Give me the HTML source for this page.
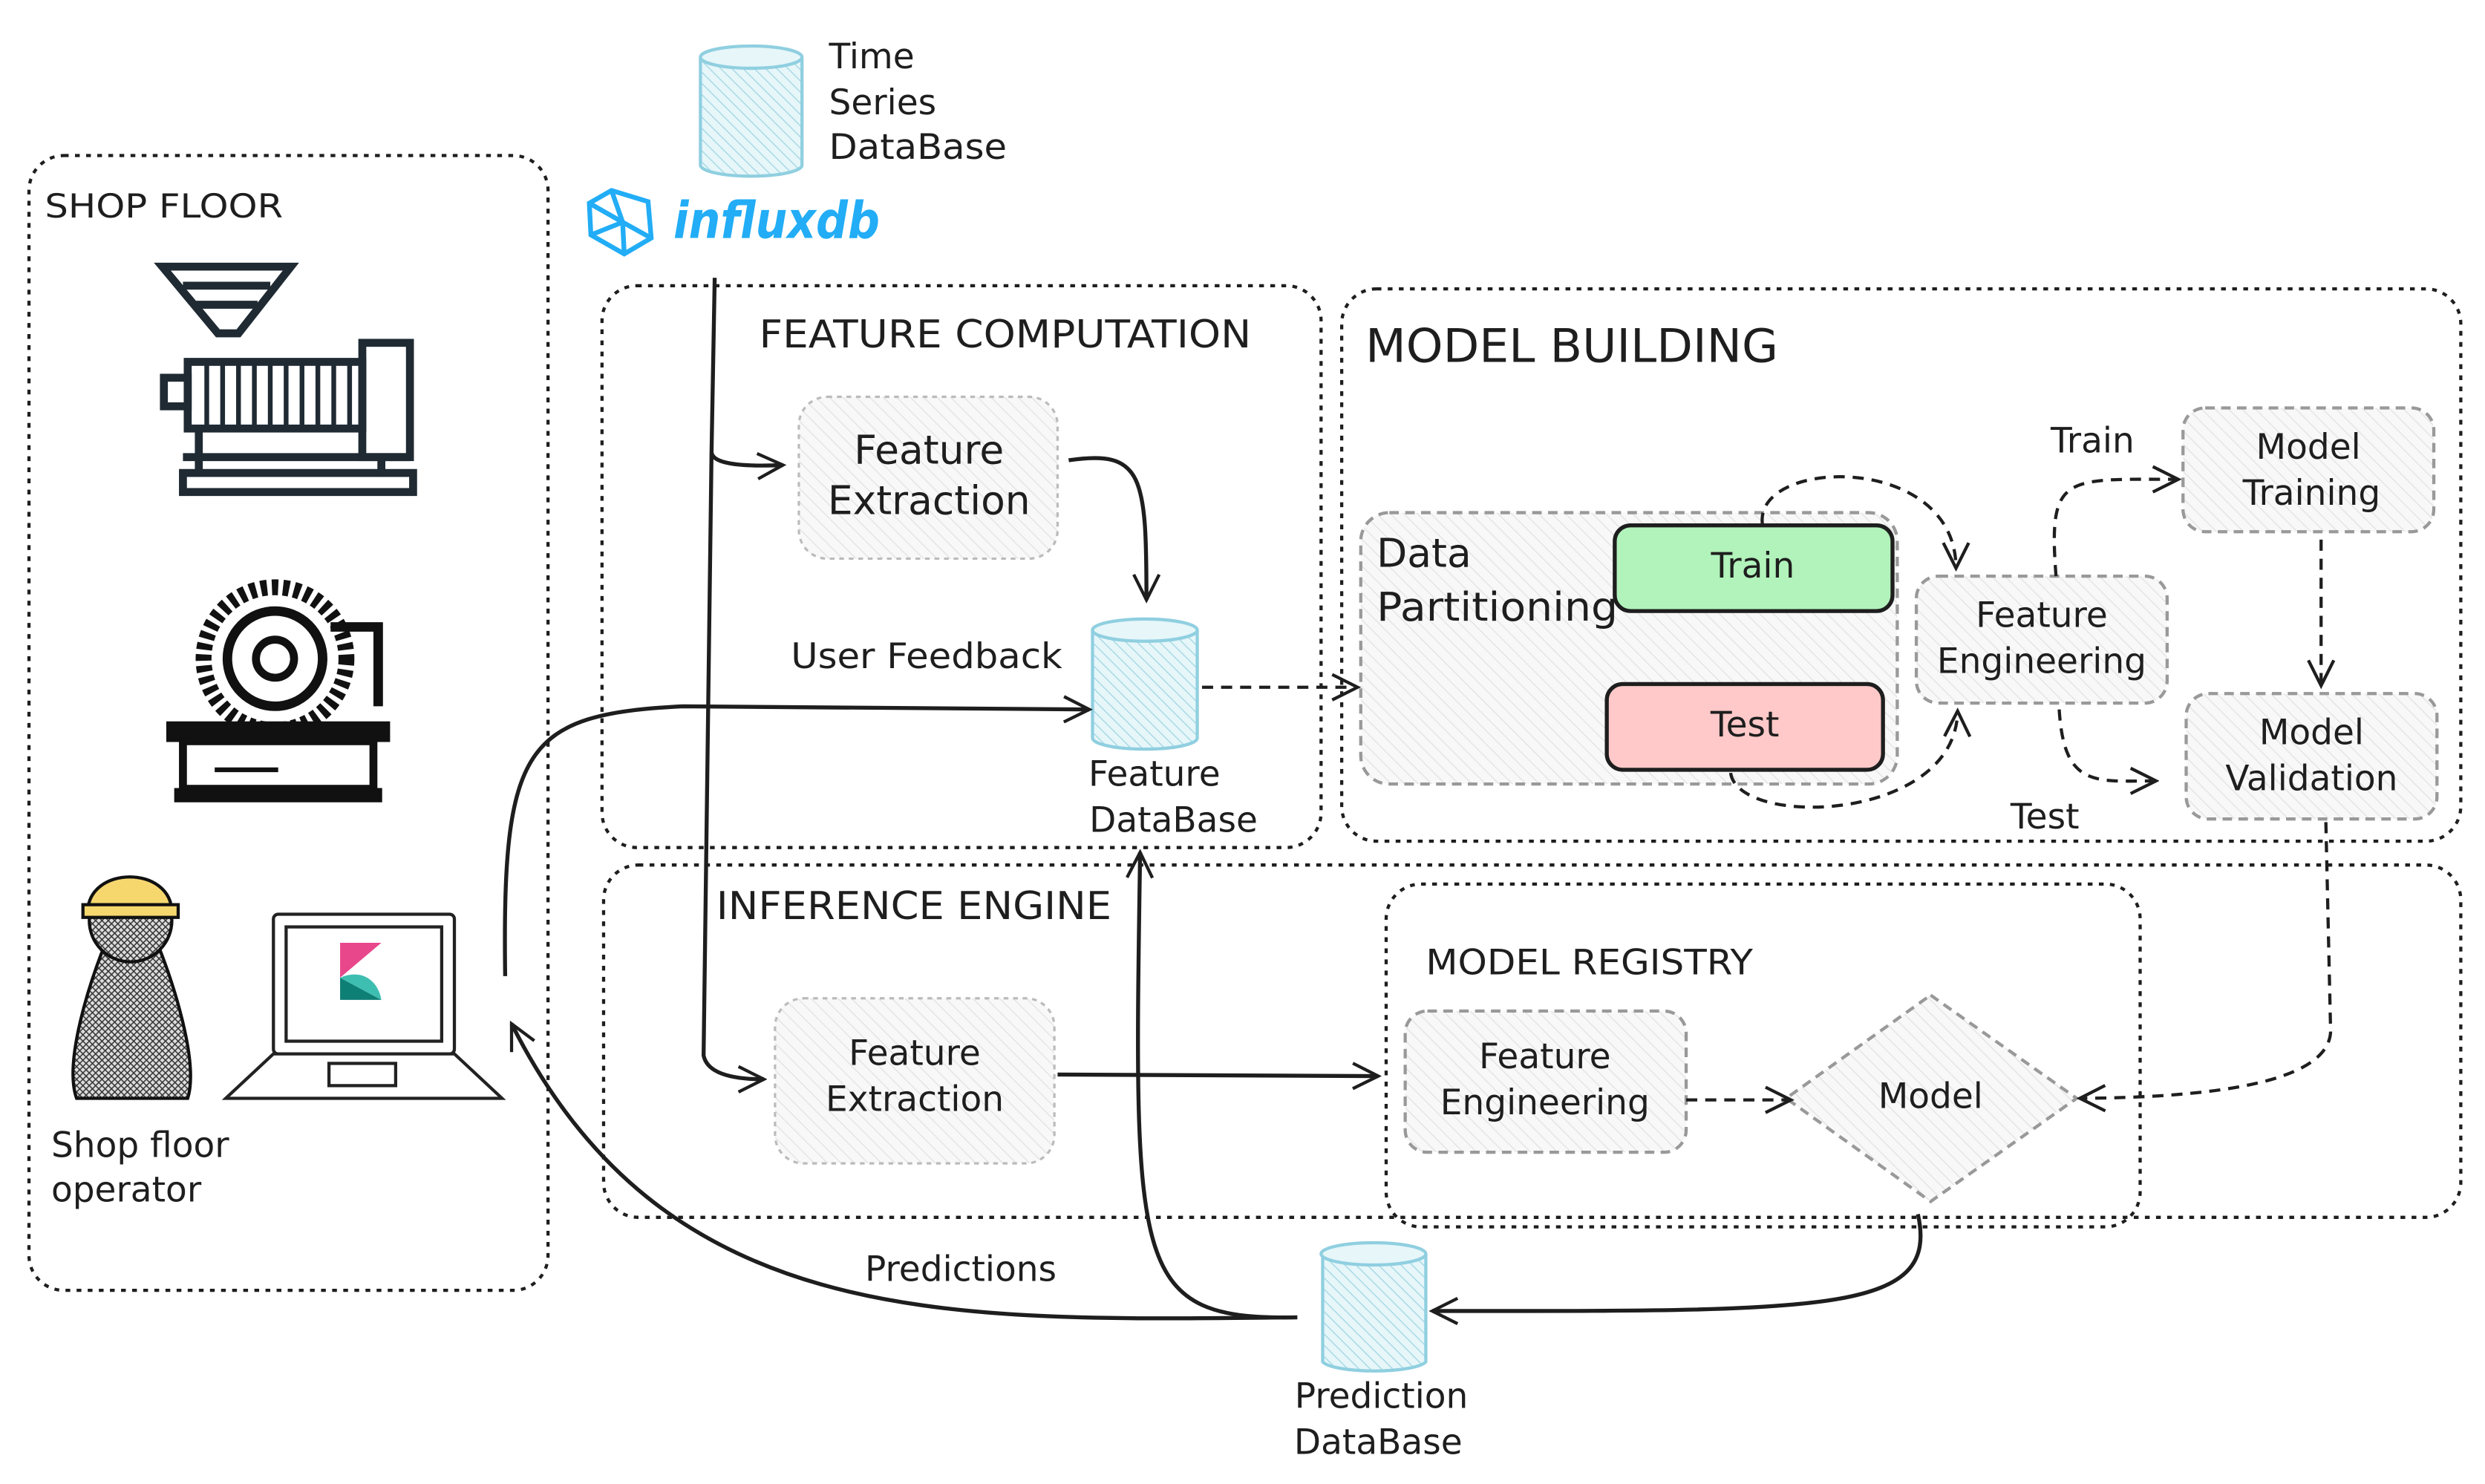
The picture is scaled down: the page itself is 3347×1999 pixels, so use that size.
<!DOCTYPE html>
<html><head><meta charset="utf-8"><style>
html,body{margin:0;padding:0;background:#fff;}
svg{display:block;}
text{font-family:"DejaVu Sans","Liberation Sans",sans-serif;fill:#1e1e1e;}
</style></head><body>
<svg width="3347" height="1999" viewBox="0 0 1565 935" xmlns="http://www.w3.org/2000/svg">
<defs>
<pattern id="hg" width="6" height="6" patternUnits="userSpaceOnUse" patternTransform="rotate(-45)"><rect width="6" height="6" fill="#f8f8f8"/><line x1="0" y1="0" x2="0" y2="6" stroke="#e2e2e2" stroke-width="1.2"/></pattern>
<pattern id="hb" width="5" height="5" patternUnits="userSpaceOnUse" patternTransform="rotate(-45)"><rect width="5" height="5" fill="#e6f6f9"/><line x1="0" y1="0" x2="0" y2="5" stroke="#9fd6e2" stroke-width="1.2"/></pattern>
<pattern id="hx" width="4" height="4" patternUnits="userSpaceOnUse"><rect width="4" height="4" fill="#ddd"/><path d="M0,0L4,4M4,0L0,4" stroke="#333" stroke-width="0.7"/></pattern>
<marker id="b" viewBox="0 0 20 20" refX="18" refY="10" markerWidth="20" markerHeight="20" orient="auto" markerUnits="userSpaceOnUse"><path d="M2,2L18,10L2,18" fill="none" stroke="#1e1e1e" stroke-width="2"/></marker>
</defs>

<g fill="none" stroke="#1e1e1e" stroke-width="2" stroke-dasharray="3 4">
<rect x="18" y="98" width="327" height="715" rx="22"/>
<rect x="379" y="180" width="453" height="354" rx="22"/>
<rect x="845" y="182" width="705" height="348" rx="22"/>
<rect x="380" y="545" width="1170" height="222" rx="22"/>
<rect x="873" y="557" width="475" height="216" rx="22"/>
</g>
<text x="28" y="137" font-size="21" textLength="150" lengthAdjust="spacingAndGlyphs">SHOP FLOOR</text>
<text x="478" y="219" font-size="24" textLength="310" lengthAdjust="spacingAndGlyphs">FEATURE COMPUTATION</text>
<text x="860" y="228" font-size="29" textLength="260" lengthAdjust="spacingAndGlyphs">MODEL BUILDING</text>
<text x="451" y="579" font-size="24" textLength="249" lengthAdjust="spacingAndGlyphs">INFERENCE ENGINE</text>
<text x="898" y="614" font-size="22" textLength="206" lengthAdjust="spacingAndGlyphs">MODEL REGISTRY</text>

<!-- extruder icon -->
<g fill="none" stroke="#1f2a33" stroke-width="5">
<path d="M102,168L183,168L150,210L137,210Z" fill="#fff"/>
<line x1="115" y1="180" x2="170" y2="180"/><line x1="122" y1="192" x2="162" y2="192"/>
<rect x="118" y="228" width="110" height="42"/>
<rect x="228" y="216" width="30" height="72"/>
<rect x="103" y="238" width="15" height="18"/>
<path d="M130,230v38M140,230v38M150,230v38M160,230v38M170,230v38M180,230v38M190,230v38M200,230v38M210,230v38M220,230v38" stroke-width="3"/>
<line x1="115" y1="288" x2="258" y2="288"/>
<rect x="115" y="298" width="145" height="12"/>
<line x1="125" y1="270" x2="125" y2="298"/><line x1="240" y1="288" x2="240" y2="298"/>
</g>
<!-- turbine icon -->
<g stroke="#111" fill="none">
<circle cx="173" cy="415" r="45" stroke-width="10" stroke-dasharray="4 3"/>
<circle cx="173" cy="415" r="30" stroke-width="6"/>
<circle cx="173" cy="415" r="12" stroke-width="5"/>
<path d="M208,395h30v50" stroke-width="6"/>
<rect x="105" y="455" width="140" height="12" fill="#111"/>
<rect x="115" y="467" width="120" height="30" stroke-width="5"/>
<rect x="110" y="497" width="130" height="8" fill="#111"/>
<line x1="135" y1="485" x2="175" y2="485" stroke-width="3"/>
</g>
<!-- operator -->
<path d="M70,585 C55,620 40,670 48,692 L118,692 C125,670 110,620 95,585 Z" fill="url(#hx)" stroke="#111" stroke-width="2"/>
<circle cx="82" cy="580" r="26" fill="url(#hx)" stroke="#111" stroke-width="2"/>
<path d="M55,575 C55,545 108,545 108,575 Z" fill="#f5d76e" stroke="#111" stroke-width="2"/>
<rect x="52" y="570" width="60" height="8" fill="#f5d76e" stroke="#111" stroke-width="2"/>
<!-- laptop -->
<g fill="#fff" stroke="#222" stroke-width="2">
<rect x="172" y="576" width="114" height="88" rx="3"/>
<rect x="180" y="584" width="98" height="72"/>
<path d="M142,692L172,664L286,664L316,692Z"/>
<rect x="207" y="670" width="42" height="14"/>
</g>
<path d="M214,594L240,594L214,616Z" fill="#e8478b"/>
<path d="M214,616L240,630L214,630Z" fill="#0e7f75"/>
<path d="M214,616C228,610 238,618 240,630Z" fill="#3ebeb0"/>
<text x="32" y="729" font-size="22">Shop floor</text>
<text x="32" y="757" font-size="22">operator</text>

<!-- time series db -->
<path d="M441,36 L441,104 A32,7 0 0 0 505,104 L505,36" fill="url(#hb)" stroke="#8fcfe0" stroke-width="2"/>
<ellipse cx="473" cy="36" rx="32" ry="7" fill="#e6f6f9" stroke="#8fcfe0" stroke-width="2"/>
<text x="522" y="43" font-size="22">Time</text>
<text x="522" y="72" font-size="22">Series</text>
<text x="522" y="100" font-size="22" textLength="112" lengthAdjust="spacingAndGlyphs">DataBase</text>
<!-- influx logo -->
<g fill="none" stroke="#22adf6" stroke-width="3">
<path d="M385,120L408,127L410,150L393,160L372,148L371,128Z"/>
<path d="M385,120L392,140L410,150M392,140L372,148M392,140L393,160M371,128L392,140"/>
</g>
<text x="424" y="150" font-size="32" font-weight="bold" font-style="italic" textLength="130" lengthAdjust="spacingAndGlyphs" style="fill:#22adf6">influxdb</text>

<rect x="503" y="250" width="163" height="102" rx="18" fill="url(#hg)" stroke="#bbb" stroke-width="1.5" stroke-dasharray="3 3"/>
<text x="585" y="292" font-size="25" text-anchor="middle">Feature</text>
<text x="585" y="324" font-size="25" text-anchor="middle">Extraction</text>
<path d="M688,397 L688,465 A33,7 0 0 0 754,465 L754,397" fill="url(#hb)" stroke="#8fcfe0" stroke-width="2"/>
<ellipse cx="721" cy="397" rx="33" ry="7" fill="#e6f6f9" stroke="#8fcfe0" stroke-width="2"/>
<text x="727" y="495" font-size="22" text-anchor="middle">Feature</text>
<text x="739" y="524" font-size="22" text-anchor="middle">DataBase</text>
<text x="498" y="421" font-size="22" textLength="171" lengthAdjust="spacingAndGlyphs">User Feedback</text>

<rect x="857" y="323" width="338" height="171" rx="18" fill="url(#hg)" stroke="#999" stroke-width="2" stroke-dasharray="6 4"/>
<text x="867" y="357" font-size="25">Data</text>
<text x="867" y="391" font-size="25" textLength="152" lengthAdjust="spacingAndGlyphs">Partitioning</text>
<rect x="1017" y="331" width="175" height="54" rx="10" fill="#b2f2bb" stroke="#1e1e1e" stroke-width="2.5"/>
<text x="1104" y="364" font-size="22" text-anchor="middle">Train</text>
<rect x="1012" y="431" width="174" height="54" rx="10" fill="#ffc9c9" stroke="#1e1e1e" stroke-width="2.5"/>
<text x="1099" y="464" font-size="22" text-anchor="middle">Test</text>

<g fill="url(#hg)" stroke="#999" stroke-width="2" stroke-dasharray="6 4">
<rect x="1207" y="363" width="158" height="80" rx="14"/>
<rect x="1375" y="257" width="158" height="78" rx="14"/>
<rect x="1377" y="437" width="158" height="79" rx="14"/>
<rect x="885" y="637" width="177" height="89" rx="14"/>
<path d="M1216,627L1308,692L1216,757L1125,692Z"/>
</g>
<text x="1286" y="395" font-size="22" text-anchor="middle">Feature</text>
<text x="1286" y="424" font-size="22" text-anchor="middle">Engineering</text>
<text x="1454" y="289" font-size="22" text-anchor="middle">Model</text>
<text x="1456" y="318" font-size="22" text-anchor="middle">Training</text>
<text x="1456" y="469" font-size="22" text-anchor="middle">Model</text>
<text x="1456" y="498" font-size="22" text-anchor="middle">Validation</text>
<text x="973" y="673" font-size="22" text-anchor="middle">Feature</text>
<text x="973" y="702" font-size="22" text-anchor="middle">Engineering</text>
<text x="1216" y="698" font-size="22" text-anchor="middle">Model</text>
<text x="1318" y="285" font-size="22" text-anchor="middle">Train</text>
<text x="1288" y="522" font-size="22" text-anchor="middle">Test</text>

<rect x="488" y="629" width="176" height="104" rx="18" fill="url(#hg)" stroke="#bbb" stroke-width="1.5" stroke-dasharray="3 3"/>
<text x="576" y="671" font-size="22" text-anchor="middle">Feature</text>
<text x="576" y="700" font-size="22" text-anchor="middle">Extraction</text>

<path d="M833,790 L833,858 A33,7 0 0 0 898,858 L898,790" fill="url(#hb)" stroke="#8fcfe0" stroke-width="2"/>
<ellipse cx="865" cy="790" rx="33" ry="7" fill="#e6f6f9" stroke="#8fcfe0" stroke-width="2"/>
<text x="870" y="887" font-size="22" text-anchor="middle">Prediction</text>
<text x="868" y="916" font-size="22" text-anchor="middle">DataBase</text>
<text x="605" y="807" font-size="22" text-anchor="middle">Predictions</text>

<g fill="none" stroke="#1e1e1e" stroke-width="2.5">
<path d="M450,175 L448,285 Q449,295 493,293" marker-end="url(#b)"/>
<path d="M448,285 L443,665 Q446,680 481,680" marker-end="url(#b)"/>
<path d="M673,290 C720,283 722,300 722,378" marker-end="url(#b)"/>
<path d="M318,615 C316,470 330,450 430,445 L686,447" marker-end="url(#b)"/>
<path d="M817,830 C600,832 420,840 322,645" marker-end="url(#b)"/>
<path d="M817,830 C712,832 714,800 718,537" marker-end="url(#b)"/>
<path d="M666,677 L868,678" marker-end="url(#b)"/>
<path d="M1208,765 C1222,828 1150,826 902,826" marker-end="url(#b)"/>
</g>
<g fill="none" stroke="#1e1e1e" stroke-width="2" stroke-dasharray="7 5">
<path d="M757,433 L855,433" marker-end="url(#b)"/>
<path d="M1062,693 L1128,693" marker-end="url(#b)"/>
<path d="M1465,518 L1468,650 Q1466,691 1310,692" marker-end="url(#b)"/>
<path d="M1110,330 C1105,288 1232,285 1232,358" marker-end="url(#b)"/>
<path d="M1090,487 C1095,522 1232,518 1233,448" marker-end="url(#b)"/>
<path d="M1295,363 C1290,298 1300,302 1372,302" marker-end="url(#b)"/>
<path d="M1297,447 C1300,497 1320,492 1358,492" marker-end="url(#b)"/>
<path d="M1462,340 L1462,432" marker-end="url(#b)"/>
</g>
</svg>
</body></html>
